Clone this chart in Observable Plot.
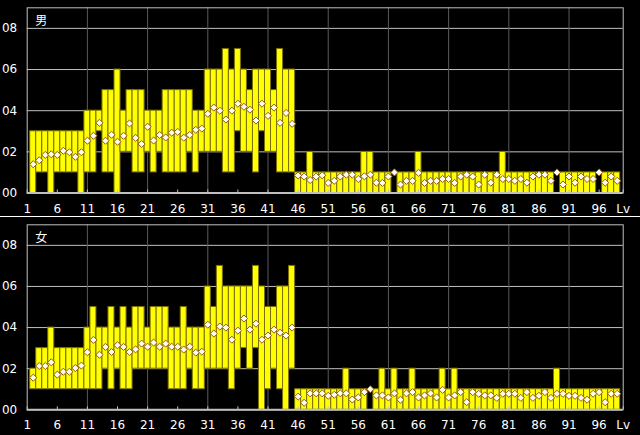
<!DOCTYPE html>
<html><head><meta charset="utf-8">
<script src="https://cdn.jsdelivr.net/npm/d3@7"></script>
<script src="https://cdn.jsdelivr.net/npm/@observablehq/plot@0.6"></script>
<style>
html,body{margin:0;padding:0;background:#000;}
#wrap{width:640px;height:435px;overflow:hidden;background:#000;}
#wrap svg{display:block;}
.sep{width:640px;height:1px;background:#fff;}
</style></head><body><div id="wrap"></div>
<script>
const levels = [2,3,4,5,6,7,8,9,10,11,12,13,14,15,16,17,18,19,20,21,22,23,24,25,26,27,28,29,30,31,32,33,34,35,36,37,38,39,40,41,42,43,44,45,46,47,48,49,50,51,52,53,54,55,56,57,58,59,60,61,62,63,64,65,66,67,68,69,70,71,72,73,74,75,76,77,78,79,80,81,82,83,84,85,86,87,88,89,90,91,92,93,94,95,96,97,98,99];

const maleMin = [0,1,1,0,1,1,1,1,0,
  1,1,3,1,1,0,2,2,1,1,
  2,1,2,1,1,1,1,2,1,2,
  2,2,2,1,1,3,2,2,1,3,
  2,2,1,1,1,
  0,0,0,0,0,0,0,0,0,0,
  0,0,0,0,0,0,1,0,0,0,
  0,0,0,0,0,0,0,0,0,0,
  0,0,0,0,0,0,0,0,0,0,
  0,0,0,1,0,0,0,0,0,0,
  1,0,0,0];
const maleMax = [3,3,3,3,3,3,3,3,3,
  4,4,4,5,5,6,4,5,5,5,
  4,4,4,5,5,5,5,5,4,4,
  6,6,6,7,6,7,6,5,6,6,
  6,5,7,6,6,
  1,1,2,1,1,1,1,1,1,1,
  1,2,2,1,1,1,1,1,1,1,
  2,1,1,1,1,1,1,1,1,1,
  1,1,1,1,2,1,1,1,1,1,
  1,1,1,1,1,1,1,1,1,1,
  1,1,1,1];
const maleMean = [1.40,1.59,1.85,1.88,1.85,2.05,1.98,1.76,1.98,
  2.54,2.78,3.41,2.54,2.83,2.49,2.78,3.38,2.68,2.38,
  3.22,2.55,2.82,2.70,2.93,2.97,2.69,2.82,3.07,3.13,
  3.85,4.15,4.00,3.57,4.00,4.34,4.19,4.05,3.52,4.34,
  3.75,4.15,3.41,3.89,3.36,
  0.85,0.80,0.63,0.80,0.86,0.49,0.59,0.80,0.89,0.89,
  0.68,0.81,0.89,0.50,0.49,0.80,1.00,0.41,0.59,0.59,
  0.98,0.49,0.59,0.59,0.68,0.68,0.49,0.80,0.89,0.80,
  0.41,0.89,0.50,0.89,0.68,0.68,0.59,0.68,0.50,0.80,
  0.89,0.89,0.59,1.00,0.41,0.80,0.50,0.80,0.68,0.68,
  1.00,0.50,0.80,0.59];

const femaleMin = [1,1,1,1,1,1,1,1,1,
  1,1,1,2,1,2,1,1,2,2,
  2,2,2,2,1,1,1,2,1,1,
  2,2,2,2,1,2,3,2,3,0,
  1,2,1,0,2,
  0,0,0,0,0,0,0,0,0,0,
  0,0,1,0,0,0,0,0,0,0,
  0,0,0,0,0,0,0,0,0,0,
  0,0,0,0,0,0,0,0,0,0,
  0,0,0,0,0,0,0,0,0,0,
  0,0,0,0];
const femaleMax = [2,3,3,4,3,3,3,3,3,
  4,5,4,4,5,4,5,4,5,5,
  4,5,5,5,4,4,5,4,4,4,
  6,5,7,6,6,6,6,6,7,6,
  5,5,6,6,7,
  1,1,1,1,1,1,1,1,2,1,
  1,1,1,1,2,1,2,1,1,2,
  1,1,1,1,2,1,2,1,1,1,
  1,1,1,1,1,1,1,1,1,1,
  1,1,1,2,1,1,1,1,1,1,
  1,1,1,1];
const femaleMean = [1.56,2.13,2.13,2.31,1.71,1.85,1.85,2.03,2.15,
  2.80,3.40,2.68,3.06,2.81,3.14,3.06,2.81,2.94,3.22,
  3.07,3.27,3.07,3.22,3.07,3.07,2.93,3.07,2.78,2.83,
  4.14,3.71,4.05,4.00,3.41,3.85,4.44,3.90,4.19,3.41,
  3.61,3.90,3.75,3.61,4.00,
  0.64,0.34,0.80,0.80,0.80,0.68,0.73,0.80,0.80,0.50,
  0.60,0.86,1.00,0.70,0.70,0.60,0.80,0.49,0.80,0.86,
  0.60,0.70,0.80,0.60,0.97,0.60,0.70,0.86,0.37,0.86,
  0.78,0.70,0.70,0.58,0.78,0.78,0.78,0.58,0.86,0.58,
  0.68,0.86,0.58,0.78,0.78,0.68,0.68,0.58,0.49,0.78,
  0.86,0.37,0.78,0.78];

const yTicks = [0,2,4,6,8];
const yTickLabels = ["00","02","04","06","08"];
const xTicks = [1,6,11,16,21,26,31,36,41,46,51,56,61,66,71,76,81,86,91,96,100];
const xTickLabels = ["1","6","11","16","21","26","31","36","41","46","51","56","61","66","71","76","81","86","91","96","Lv"];
const xGrid = [11,21,31,41,51,61,71,81,91];

const panels = [
  {label: "男", min: maleMin, max: maleMax, mean: maleMean, height: 216, marginBottom: 23.5},
  {label: "女", min: femaleMin, max: femaleMax, mean: femaleMean, height: 218, marginBottom: 25.7}
];

function makePanel(p) {
  const data = levels.map((lv, i) => ({lv, min: p.min[i], max: p.max[i], mean: p.mean[i]}));
  return Plot.plot({
    width: 640, height: p.height,
    marginLeft: 26.7, marginRight: 17.3, marginTop: 7.3, marginBottom: p.marginBottom,
    style: {background: "#000", color: "#fff", fontFamily: "DejaVu Sans", fontSize: "12px"},
    x: {domain: [1, 100], label: null},
    y: {domain: [0, 9], label: null},
    marks: [
      Plot.gridY(yTicks.slice(1), {stroke: "#c0c0c0", strokeOpacity: 1}),
      Plot.gridX(xGrid, {stroke: "#5a5a5a", strokeOpacity: 1}),
      Plot.rectY(data, {filter: d => d.max > d.min, x1: d => d.lv - 0.5, x2: d => d.lv + 0.5, y1: "min", y2: "max",
        fill: "#ffff00", stroke: "#7a7000", strokeWidth: 1}),
      Plot.dot(data, {x: "lv", y: "mean", symbol: "diamond2", r: 3.2, fill: "#fffff2", stroke: "#9a5a10", strokeWidth: 1}),
      Plot.frame({stroke: "#c0c0c0"}),
      Plot.ruleY([0], {stroke: "#c0c0c0", strokeWidth: 2}),
      Plot.axisY(yTicks, {tickSize: 0, tickPadding: 10, label: null, tickFormat: d => yTickLabels[yTicks.indexOf(d)], fill: "#fff"}),
      Plot.axisX(xTicks, {tickSize: -3, tickPadding: 14, label: null, tickFormat: d => xTickLabels[xTicks.indexOf(d)], stroke: "#c0c0c0", fill: "#fff"}),
      Plot.text([p.label], {frameAnchor: "top-left", dx: 8, dy: 9, fill: "#fff", fontSize: 12,
        fontFamily: "Noto Sans CJK JP", lineAnchor: "top", textAnchor: "start"})
    ]
  });
}

const wrap = document.getElementById("wrap");
wrap.appendChild(makePanel(panels[0]));
const sep = document.createElement("div");
sep.className = "sep";
wrap.appendChild(sep);
wrap.appendChild(makePanel(panels[1]));
</script>
</body></html>
